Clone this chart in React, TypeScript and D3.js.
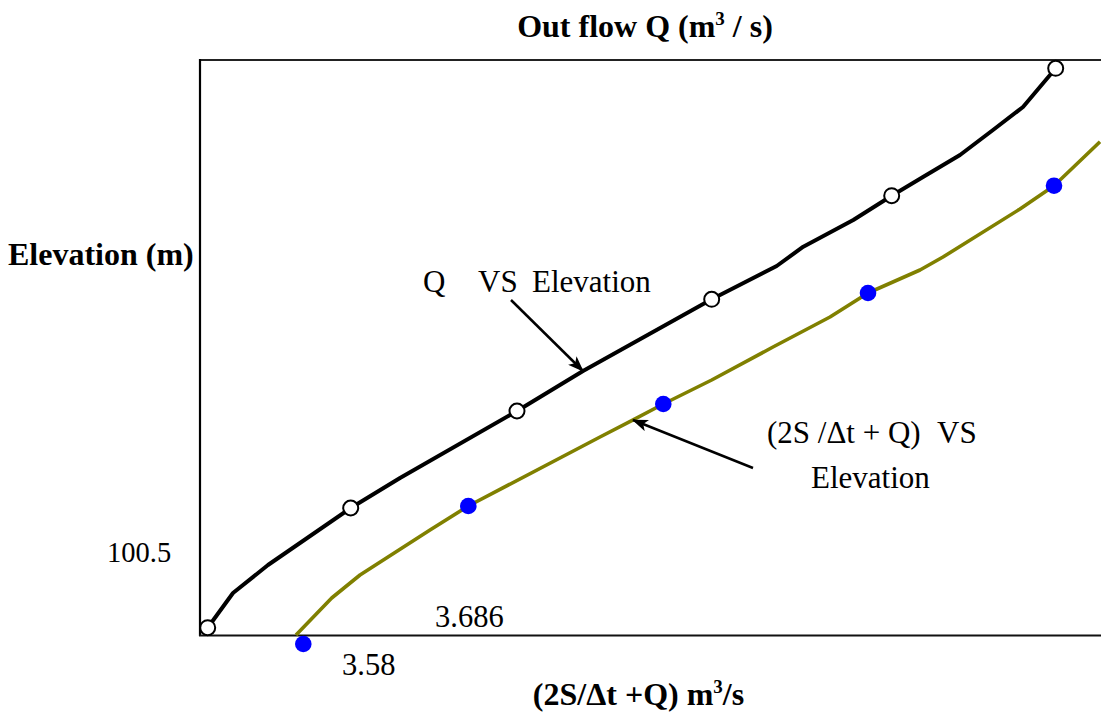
import React from "react";
import * as d3 from "d3";

// Schematic units: x = discharge offset, y = elevation offset
const qLineX = [7.7, 33, 68, 150.7, 200, 317, 383, 511.7, 576.7, 603.3, 653.3, 691.7, 723, 760, 793, 823, 850, 855.7];
const qLineY = [7.3, 42, 70, 127, 157, 224, 264, 335.7, 369, 388.3, 415, 439.3, 458, 480, 505, 528, 560, 566.7];
const qMarkX = [7.7, 150.7, 317, 511.7, 691.7, 855.7];
const qMarkY = [7.3, 127, 224, 335.7, 439.3, 566.7];

const sLineX = [96, 131.7, 160, 230, 268.3, 400, 431.7, 463.3, 511.7, 573, 630, 668, 720, 743, 820, 854, 900];
const sLineY = [0, 37, 60, 105, 129, 198, 214.3, 231, 255, 288, 318, 342, 365, 378, 426, 449.3, 493.3];
const sMarkX = [103.3, 268.3, 463.3, 668, 854];
const sMarkY = [-9, 129, 231, 342, 449.3];

const tickLabels = ["100.5", "3.686", "3.58"];

const W = 1101;
const H = 719;
const FONT = "'Liberation Serif', 'Times New Roman', serif";

export default function App() {
  const x = d3.scaleLinear().domain([0, 901]).range([200, 1101]);
  const y = d3.scaleLinear().domain([0, 575]).range([635, 60]);
  const line = d3
    .line<[number, number]>()
    .x((d) => x(d[0]))
    .y((d) => y(d[1]))
    .curve(d3.curveLinear);
  const qPts = qLineX.map((v, i) => [v, qLineY[i]] as [number, number]);
  const sPts = sLineX.map((v, i) => [v, sLineY[i]] as [number, number]);

  return (
    <div style={{ position: "absolute", left: 0, top: 0 }}>
      <svg width={W} height={H} style={{ display: "block", background: "#fff" }}>
        <defs>
          <marker id="ah" viewBox="0 0 16 12" refX="15" refY="6" markerWidth="16" markerHeight="12" markerUnits="userSpaceOnUse" orient="auto">
            <path d="M0,0 L16,6 L0,12 L4,6 Z" fill="#000" />
          </marker>
        </defs>
        {/* frame */}
        <line x1={200} y1={60} x2={W} y2={60} stroke="#222" strokeWidth={2} />
        <line x1={200} y1={59} x2={200} y2={636} stroke="#000" strokeWidth={2.2} />
        <line x1={199} y1={635.5} x2={W} y2={635.5} stroke="#111" strokeWidth={2} />

        {/* lines */}
        <path d={line(sPts) || ""} fill="none" stroke="#808000" strokeWidth={3.6} strokeLinejoin="round" />
        <path d={line(qPts) || ""} fill="none" stroke="#000" strokeWidth={4} strokeLinejoin="round" />

        {/* markers */}
        {qMarkX.map((v, i) => (
          <circle key={"q" + i} cx={x(v)} cy={y(qMarkY[i])} r={7.5} fill="#fff" stroke="#000" strokeWidth={2} />
        ))}
        {sMarkX.map((v, i) => (
          <circle key={"s" + i} cx={x(v)} cy={y(sMarkY[i])} r={8.3} fill="#0000ff" />
        ))}

        {/* titles */}
        <text x={645} y={37} textAnchor="middle" fontFamily={FONT} fontWeight="bold" fontSize={32}>
          Out flow Q (m<tspan dy={-12} fontSize={19}>3</tspan>
          <tspan dy={12}> / s)</tspan>
        </text>
        <text x={8} y={265} fontFamily={FONT} fontWeight="bold" fontSize={32}>
          Elevation (m)
        </text>
        <text x={638.5} y={705} textAnchor="middle" fontFamily={FONT} fontWeight="bold" fontSize={32}>
          (2S/Δt +Q) m<tspan dy={-12} fontSize={19}>3</tspan>
          <tspan dy={12}>/s</tspan>
        </text>

        {/* tick-like labels */}
        <text x={107} y={562} fontFamily={FONT} fontSize={28.5}>{tickLabels[0]}</text>
        <text x={435} y={627} fontFamily={FONT} fontSize={30.5}>{tickLabels[1]}</text>
        <text x={342} y={675} fontFamily={FONT} fontSize={30.5}>{tickLabels[2]}</text>

        {/* annotations */}
        <text y={292} fontFamily={FONT} fontSize={31}>
          <tspan x={423}>Q</tspan>
          <tspan x={478}>VS</tspan>
          <tspan x={532}>Elevation</tspan>
        </text>
        <line x1={511} y1={300} x2={583} y2={371} stroke="#000" strokeWidth={2.5} markerEnd="url(#ah)" />

        <text y={443} fontFamily={FONT} fontSize={31}>
          <tspan x={767}>(2S /Δt + Q)</tspan>
          <tspan x={937}>VS</tspan>
        </text>
        <text x={811} y={488} fontFamily={FONT} fontSize={31}>Elevation</text>
        <line x1={753} y1={468} x2={633} y2={420} stroke="#000" strokeWidth={2.5} markerEnd="url(#ah)" />
      </svg>
    </div>
  );
}
